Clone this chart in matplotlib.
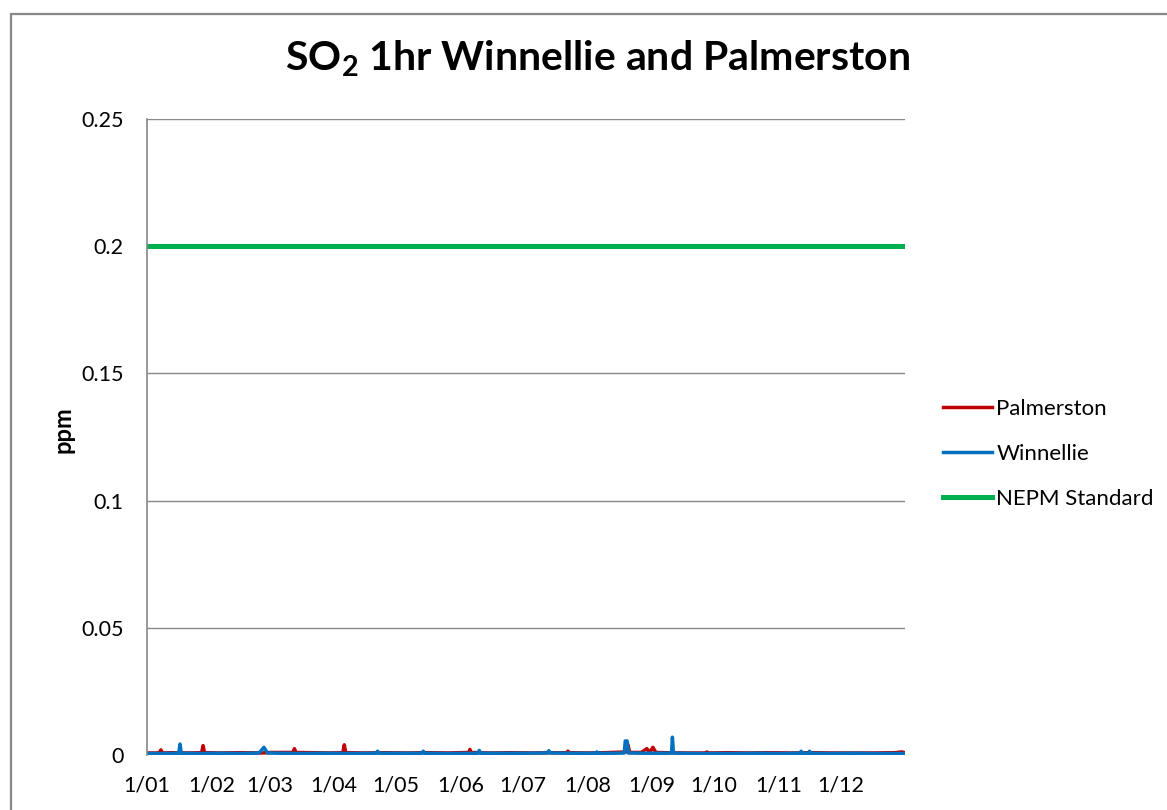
import matplotlib
matplotlib.use("Agg")
import matplotlib.pyplot as plt
from matplotlib.patches import Rectangle
import numpy as np

plt.rcParams['font.family'] = ['Lato', 'DejaVu Sans']
plt.rcParams['mathtext.fontset'] = 'custom'
plt.rcParams['mathtext.rm'] = 'Lato'
plt.rcParams['mathtext.bf'] = 'Lato:bold'

# Month tick labels (day-of-year positions of month starts)
month_days = [0, 31, 59, 90, 120, 151, 181, 212, 243, 273, 304, 334]
month_labels = ["1/01", "1/02", "1/03", "1/04", "1/05", "1/06",
                "1/07", "1/08", "1/09", "1/10", "1/11", "1/12"]

# Palmerston readings (day of year, ppm)
palm_days = [0, 5, 6, 6.7, 7.4, 12, 20, 26.3, 27, 27.7, 35, 45, 55, 60, 70.3, 71, 71.7,
             80, 88, 94.3, 95, 95.7, 105, 115, 125, 135, 145, 155, 155.5, 156, 165,
             175, 185, 195, 202, 202.7, 203.4, 212, 220, 230.8, 231.6, 232.4, 238,
             240.7, 242, 243.6, 245, 250, 260, 269, 269.6, 270.2, 280, 290, 300,
             310, 320, 330, 340, 350, 360, 363.5, 365]
palm_vals = [0.0008, 0.0008, 0.0010, 0.0020, 0.0008, 0.0009, 0.0008, 0.0009, 0.0037, 0.0009,
             0.0008, 0.0009, 0.0008, 0.0010, 0.0010, 0.0025, 0.0010, 0.0009, 0.0008, 0.0009,
             0.0040, 0.0009, 0.0008, 0.0009, 0.0008, 0.0009, 0.0008, 0.0010, 0.0022, 0.0010,
             0.0008, 0.0009, 0.0008, 0.0009, 0.0009, 0.0015, 0.0009, 0.0008, 0.0009, 0.0012,
             0.0040, 0.0010, 0.0010, 0.0025, 0.0010, 0.0030, 0.0010, 0.0009, 0.0008, 0.0008,
             0.0012, 0.0008, 0.0009, 0.0008, 0.0009, 0.0008, 0.0009, 0.0008, 0.0008, 0.0008,
             0.0009, 0.0012, 0.0009]

# Winnellie readings (day of year, ppm)
winn_days = [0, 8, 15.3, 15.9, 16.5, 25, 35, 45, 54, 56.3, 58, 65, 75, 85, 100, 110.3,
             111, 111.7, 120, 132.3, 133, 133.7, 145, 159.3, 160, 160.7, 170, 180, 192.8,
             193.5, 194.2, 205, 216, 216.6, 217.2, 225, 229.8, 230.3, 231.2, 231.8, 240,
             249, 252.6, 253, 253.5, 256, 265, 280, 295, 305, 314.5, 315, 315.6, 318.6,
             319, 319.6, 330, 340, 350, 360, 365]
winn_vals = [0.0006, 0.0006, 0.0007, 0.0043, 0.0007, 0.0006, 0.0007, 0.0006, 0.0008, 0.0030,
             0.0008, 0.0007, 0.0006, 0.0007, 0.0006, 0.0007, 0.0015, 0.0007, 0.0007, 0.0007,
             0.0015, 0.0007, 0.0006, 0.0007, 0.0018, 0.0007, 0.0007, 0.0007, 0.0008, 0.0017,
             0.0008, 0.0007, 0.0007, 0.0012, 0.0007, 0.0007, 0.0008, 0.0055, 0.0055, 0.0008,
             0.0007, 0.0007, 0.0008, 0.0070, 0.0008, 0.0007, 0.0006, 0.0006, 0.0007, 0.0006,
             0.0007, 0.0015, 0.0007, 0.0007, 0.0015, 0.0007, 0.0006, 0.0007, 0.0006, 0.0006,
             0.0006]

nepm_days = [0, 365]
nepm_vals = [0.2, 0.2]

fig = plt.figure(figsize=(11.67, 8.10), dpi=100)
W, H = 1167, 810

# outer chart frame
fig.patches.append(Rectangle((11 / W, -0.1), 1.2, 1.1 - 14 / H, transform=fig.transFigure,
                             fill=False, edgecolor='#888888', linewidth=1.6))

ax = fig.add_axes([147 / W, 1 - 755 / H, (905 - 147) / W, (755 - 119) / H])
ax.plot(palm_days, palm_vals, color='#C00000', linewidth=2.5, label='Palmerston',
        solid_joinstyle='round')
ax.plot(winn_days, winn_vals, color='#0070C0', linewidth=2.5, label='Winnellie',
        solid_joinstyle='round')
ax.plot(nepm_days, nepm_vals, color='#00B050', linewidth=3.6, label='NEPM Standard')

ax.set_xlim(0, 365)
ax.set_ylim(0, 0.25)
ax.set_yticks([0, 0.05, 0.1, 0.15, 0.2, 0.25])
ax.set_yticklabels(['0', '0.05', '0.1', '0.15', '0.2', '0.25'])
ax.set_xticks(month_days)
ax.set_xticklabels(month_labels)
ax.tick_params(axis='both', labelsize=15.5, length=0, colors='black')
ax.tick_params(axis='y', pad=17)
ax.tick_params(axis='x', pad=15)
ax.grid(axis='y', color='#888888', linewidth=1.0)
ax.set_axisbelow(True)
for s in ['top', 'right', 'bottom']:
    ax.spines[s].set_visible(False)
ax.spines['left'].set_color('#888888')
ax.spines['left'].set_linewidth(1.2)

fig.text(63 / W, 1 - 430 / H, 'ppm', rotation=90, ha='center', va='center',
         fontsize=17, fontweight='bold')

fig.text(597 / W, 1 - 70 / H, r'SO$_\mathbf{2}$ 1hr Winnellie and Palmerston',
         ha='center', va='baseline', fontsize=29.5, fontweight='bold')

leg = ax.legend(loc='upper left', bbox_to_anchor=(943 / W, 1 - 399 / H),
                bbox_transform=fig.transFigure, frameon=False, borderpad=0,
                borderaxespad=0, fontsize=16, handlelength=2.2, handletextpad=0.2,
                labelspacing=1.12)

fig.savefig('out.png', dpi=100, facecolor='white')
